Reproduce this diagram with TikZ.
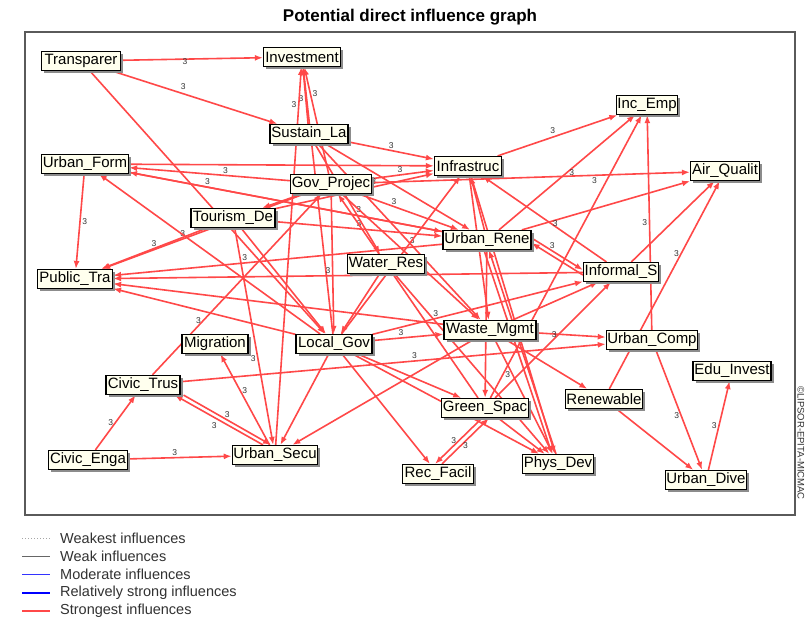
\documentclass[tikz,border=0pt]{standalone}
\usepackage{fontspec}
\setmainfont{Liberation Sans}
\usetikzlibrary{arrows.meta,shadows}
\definecolor{edgered}{RGB}{255,72,72}
\definecolor{boxfill}{RGB}{255,255,238}
\definecolor{framegray}{RGB}{90,90,90}
\definecolor{legtextc}{RGB}{50,50,50}
\pgfdeclarelayer{bg}
\pgfsetlayers{bg,main}
\tikzset{
  box/.style={draw=black, line width=1.2pt, fill=boxfill, minimum height=19pt, inner sep=1pt,
    font=\fontsize{15}{16}\selectfont,
    drop shadow={shadow xshift=2.5pt, shadow yshift=-2.5pt, fill=black!45, opacity=1}},
  arr/.style={draw=edgered, line width=1.6pt, -{Latex[length=8pt,width=6pt]}},
  three/.style={font=\fontsize{8.5}{9}\selectfont, text=black!80, inner sep=1.5pt},
  legtext/.style={anchor=west, font=\fontsize{14.5}{15}\selectfont, text=legtextc, inner sep=0pt},
}
\begin{document}
\begin{tikzpicture}[x=1pt,y=-1pt]
\useasboundingbox (0,0) rectangle (807,622);
\node[font=\bfseries\fontsize{17}{19}\selectfont] (title) at (410,17) {Potential direct influence graph};
\node[rotate=-90, font=\fontsize{9.5}{10}\selectfont, text=black!80] (copy) at (801,443) {©LIPSOR-EPITA-MICMAC};

% nodes
\node[box, minimum width=79pt] (tr)  at (81,61)   {Transparer};
\node[box, minimum width=77pt] (inv) at (302,57)  {Investment};
\node[box, minimum width=78pt] (sus) at (309,134) {Sustain\_La};
\node[box, minimum width=87pt] (uf)  at (85,164)  {Urban\_Form};
\node[box, minimum width=81pt] (gp)  at (331,184) {Gov\_Projec};
\node[box, minimum width=67pt] (inf) at (468,166) {Infrastruc};
\node[box, minimum width=61pt] (ie)  at (647,105) {Inc\_Emp};
\node[box, minimum width=69pt] (aq)  at (725,171) {Air\_Qualit};
\node[box, minimum width=84pt] (td)  at (233,218) {Tourism\_De};
\node[box, minimum width=88pt] (ur)  at (487,240) {Urban\_Rene};
\node[box, minimum width=75pt] (wr)  at (386,264) {Water\_Res};
\node[box, minimum width=75pt] (pt)  at (75,279)  {Public\_Tra};
\node[box, minimum width=75pt] (is)  at (621,272) {Informal\_S};
\node[box, minimum width=66pt] (mig) at (215,344) {Migration};
\node[box, minimum width=76pt] (lg)  at (334,344) {Local\_Gov};
\node[box, minimum width=92pt] (wm)  at (490,330) {Waste\_Mgmt};
\node[box, minimum width=90pt] (uc)  at (652,340) {Urban\_Comp};
\node[box, minimum width=74pt] (ct)  at (143,385) {Civic\_Trus};
\node[box, minimum width=78pt] (ei)  at (732,371) {Edu\_Invest};
\node[box, minimum width=77pt] (ren) at (604,399) {Renewable};
\node[box, minimum width=86pt] (gs)  at (485,408) {Green\_Spac};
\node[box, minimum width=79pt] (ce)  at (88,460)  {Civic\_Enga};
\node[box, minimum width=83pt] (us)  at (275,455) {Urban\_Secu};
\node[box, minimum width=71pt] (rf)  at (438,474) {Rec\_Facil};
\node[box, minimum width=71pt] (pd)  at (558,464) {Phys\_Dev};
\node[box, minimum width=80pt] (ud)  at (706,480) {Urban\_Dive};

\begin{pgfonlayer}{bg}
\fill[white] (0,0) rectangle (807,622);
\draw[framegray, line width=1.3pt] (25,32) rectangle (795,515);
\draw[arr] (tr) -- node[three,above,pos=.45,yshift=-8pt]{3} (inv);
\draw[arr] (tr) -- node[three,above right,pos=.4]{3} (sus);
\draw[arr] (tr) -- (lg);
\draw[arr] (sus) -- node[three,left,pos=.45]{3} (inv);
\draw[arr] (gp) -- node[three,right,pos=.75]{3} (inv);
\draw[arr] (lg) -- (inv);
\draw[arr] (us) -- node[three,left,pos=.9]{3} (inv);
\draw[arr] (uf) -- (inf);
\draw[arr] (uf) -- node[three,right,pos=.5]{3} (pt);
\draw[arr] (sus) -- node[three,above,pos=.5]{3} (inf);
\draw[arr] (gp) -- node[three,above,pos=.45]{3} (inf);
\draw[arr] (td) -- node[three,above,pos=.62]{3} (inf);
\draw[arr] (inf) -- node[three,above left,pos=.5]{3} (ie);
\draw[arr] (ur) -- node[three,right,pos=.5]{3} (ie);
\draw[arr] (uc) -- node[three,left,pos=.5]{3} (ie);
\draw[arr] (gs) -- (ie);
\draw[arr] (gp) -- node[three,below,pos=.7]{3} (aq);
\draw[arr] (ur) -- (aq);
\draw[arr] (is) -- (aq);
\draw[arr] (ren) -- node[three,left,pos=.65]{3} (aq);
\draw[arr] (is) -- node[three,right,pos=.45]{3} (inf);
\draw[arr] ([yshift=2pt]ur.east) -- node[three,above,pos=.4]{3} ([yshift=2pt]is.west);
\draw[arr] ([yshift=-3pt]is.west) -- ([yshift=-3pt]ur.east);
\draw[arr] (ur) -- (inf);
\draw[arr] (td) -- node[three,above,pos=.5]{3} (ur);
\draw[arr] (ur) -- node[three,above,pos=.75]{3} (uf);
\draw[arr] (ur) -- node[three,above,pos=.6]{3} (pt);
\draw[arr] (gp) -- node[three,above,pos=.4]{3} (uf);
\draw[arr] (gp) -- node[three,above,pos=.6]{3} (pt);
\draw[arr] (td) -- node[three,above,pos=.5]{3} (pt);
\draw[arr] (is) -- (pt);
\draw[arr] (wm) -- (pt);
\draw[arr] (lg) -- (pt);
\draw[arr] (ce) -- node[three,left,pos=.5]{3} (ct);
\draw[arr] (ce) -- node[three,above,pos=.45]{3} (us);
\draw[arr] ([xshift=3pt]ct.south east) -- node[three,above,pos=.5]{3} ([xshift=-4pt]us.north);
\draw[arr] ([xshift=-12pt]us.north) -- node[three,below left,pos=.5]{3} ([xshift=-6pt]ct.south east);
\draw[arr] (us) -- node[three,right,pos=.6]{3} (mig);
\draw[arr] (ct) -- node[three,above,pos=.55]{3} (uc);
\draw[arr] (ct) -- node[three,left,pos=.3]{3} (gp);
\draw[arr] (lg) -- (us);
\draw[arr] (wm) -- (us);
\draw[arr] (lg) -- (rf);
\draw[arr] (lg) -- (pd);
\draw[arr] (lg) -- (gs);
\draw[arr] (lg) -- node[three,above,pos=.4]{3} (wm);
\draw[arr] (wr) -- (lg);
\draw[arr] ([xshift=-3pt]gs.south) -- node[three,left,pos=.5]{3} ([xshift=-3pt]rf.north);
\draw[arr] ([xshift=4pt]rf.north) -- node[three,right,pos=.4]{3} ([xshift=4pt]gs.south);
\draw[arr] (gs) -- (pd);
\draw[arr] (wm) -- node[three,left,pos=.3]{3} (pd);
\draw[arr] ([xshift=-3pt]ur.south) -- ([xshift=-6pt]pd.north);
\draw[arr] ([xshift=-2pt]pd.north) -- ([xshift=2pt]ur.south);
\draw[arr] (ur) -- (gs);
\draw[arr] (wm) -- (uc);
\draw[arr] (wm) -- (ren);
\draw[arr] (ren) -- (ud);
\draw[arr] (uc) -- node[three,left,pos=.55]{3} (ud);
\draw[arr] (ud) -- node[three,left,pos=.5]{3} (ei);
\draw[arr] (gs) -- node[three,left,pos=.55]{3} (is);
\draw[arr] (lg) -- node[three,above,pos=.3]{3} (is);
\draw[arr] (td) -- (lg);
\draw[arr] (sus) -- (ur);
\draw[arr] (sus) -- node[three,right,pos=.55]{3} (wm);
\draw[arr] (sus) -- node[three,right,pos=.6]{3} (wr);
\draw[arr] (lg) -- node[three,right,pos=.38]{3} (inf);
\draw[arr] (td) -- node[three,left,pos=.6]{3} (us);
\draw[arr] (lg) -- (uf);
\draw[arr] (gp) -- node[three,above,pos=.35]{3} (ur);
\draw[arr] (gp) -- (wm);
\draw[arr] (gp) -- node[three,left,pos=.55]{3} (lg);
\draw[arr] (uf) -- (ur);
\draw[arr] (inf) -- (pd);
\draw[arr] (wm) -- (is);
\draw[arr] (gp) -- (td);
\draw[arr] (inf) -- (wm);
\draw[arr] (wr) -- (pd);
\draw[arr] (gs) -- (gp);
\end{pgfonlayer}

% legend
\draw[black!35, dotted, line width=1pt] (22,538) -- (50,538);
\draw[black!60, line width=0.9pt] (22,556) -- (50,556);
\draw[blue!80, line width=0.9pt] (22,574) -- (50,574);
\draw[blue, line width=2pt] (22,593) -- (50,593);
\draw[edgered, line width=2pt] (22,611) -- (50,611);
\node[legtext] (l1) at (60,538) {Weakest influences};
\node[legtext] (l2) at (60,556) {Weak influences};
\node[legtext] (l3) at (60,574) {Moderate influences};
\node[legtext] (l4) at (60,593) {Relatively strong influences};
\node[legtext] (l5) at (60,611) {Strongest influences};
\end{tikzpicture}
\end{document}
